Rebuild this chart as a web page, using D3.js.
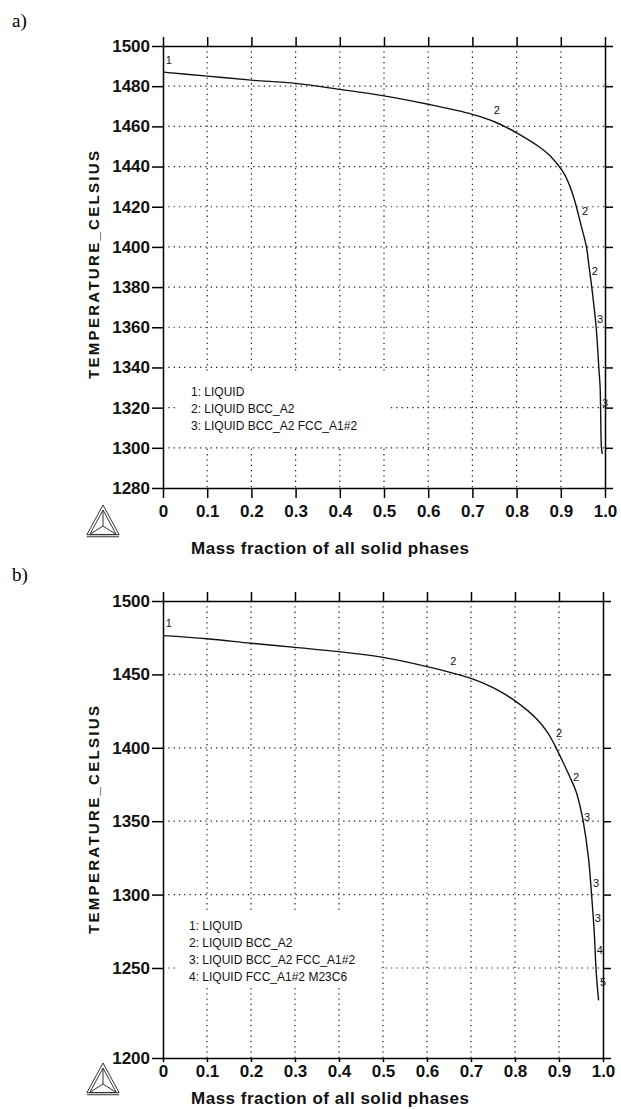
<!DOCTYPE html>
<html>
<head>
<meta charset="utf-8">
<script src="https://cdn.jsdelivr.net/npm/d3@7"></script>
<style>
  body { margin: 0; background: #fff; }
  svg { display: block; }
</style>
</head>
<body>
<script>
// ---- data ----
var xTicks = [0, 0.1, 0.2, 0.3, 0.4, 0.5, 0.6, 0.7, 0.8, 0.9, 1.0]
var xTickLabels = ["0", "0.1", "0.2", "0.3", "0.4", "0.5", "0.6", "0.7", "0.8", "0.9", "1.0"]

var yTicksA = [1280, 1300, 1320, 1340, 1360, 1380, 1400, 1420, 1440, 1460, 1480, 1500]
var yTicksB = [1200, 1250, 1300, 1350, 1400, 1450, 1500]

// panel a: mass fraction solid vs temperature
var fracA = [0, 0.1, 0.2, 0.3, 0.4, 0.5, 0.6, 0.7, 0.75, 0.8, 0.85, 0.875, 0.9, 0.91, 0.92, 0.928, 0.934, 0.945, 0.958, 0.964, 0.970, 0.980, 0.986, 0.989, 0.990, 0.992, 0.994]
var tempA = [1487, 1485, 1483, 1481.4, 1478.4, 1475.2, 1471, 1466, 1462.3, 1456.8, 1450, 1445.5, 1439, 1435.5, 1430.5, 1425.5, 1421, 1411.5, 1400, 1390, 1380, 1360, 1340, 1330, 1320, 1300, 1297]

// panel b
var fracB = [0, 0.1, 0.2, 0.3, 0.4, 0.5, 0.6, 0.7, 0.75, 0.8, 0.85, 0.875, 0.89, 0.907, 0.925, 0.939, 0.948, 0.955, 0.967, 0.974, 0.980, 0.984, 0.987, 0.99]
var tempB = [1476.4, 1474.3, 1471.2, 1468.4, 1465.5, 1461.6, 1455.3, 1447.3, 1441, 1432, 1419.5, 1410, 1402, 1391.5, 1380, 1370, 1360, 1350, 1325, 1300, 1275, 1250, 1240, 1232]

// curve labels [fraction, temperature, text]
var curveLabelsA = [[0.006, 1493, "1"], [0.755, 1468, "2"], [0.955, 1418, "2"], [0.977, 1388, "2"], [0.989, 1364, "3"], [1.0, 1322, "3"]]
var curveLabelsB = [[0.006, 1485, "1"], [0.66, 1459, "2"], [0.90, 1410, "2"], [0.939, 1380, "2"], [0.964, 1353, "3"], [0.984, 1308, "3"], [0.988, 1284, "3"], [0.993, 1262, "4"], [1.0, 1242, "5"]]

var legendA = ["1: LIQUID", "2: LIQUID BCC_A2", "3: LIQUID BCC_A2 FCC_A1#2"]
var legendB = ["1: LIQUID", "2: LIQUID BCC_A2", "3: LIQUID BCC_A2 FCC_A1#2", "4: LIQUID FCC_A1#2  M23C6"]

var xTitle = "Mass fraction of all solid phases"
var yTitle = "TEMPERATURE_CELSIUS"

var w = 621
var h = 1109
var sans = "'Liberation Sans', Arial, sans-serif"

var svg = d3.select("body").append("svg")
	.attr("width", w)
	.attr("height", h)

drawPanel({
	tag: "a)", tagY: 27,
	left: 163, right: 605, top: 46, bottom: 488,
	yDomain: [1280, 1500], yRange: [488, 46],
	yTicks: yTicksA, frac: fracA, temp: tempA,
	labels: curveLabelsA, legend: legendA,
	legendBox: [176, 374, 214, 72], legendX: 191, legendY: 396,
	xTickSize: 10, xTickPad: 7,
	yTitleY: 265, xTitleY: 554, logoY: 522
})

drawPanel({
	tag: "b)", tagY: 581,
	left: 163, right: 603, top: 601, bottom: 1058,
	yDomain: [1200, 1250, 1500], yRange: [1058, 968, 601],
	yTicks: yTicksB, frac: fracB, temp: tempB,
	labels: curveLabelsB, legend: legendB,
	legendBox: [177, 910, 204, 78], legendX: 189, legendY: 930,
	xTickSize: 4, xTickPad: 3,
	yTitleY: 820, xTitleY: 1104, logoY: 1080
})

function drawPanel(p){
	var g = svg.append("g")

	var xScale = d3.scaleLinear().domain([0, 1]).range([p.left, p.right])
	var yScale = d3.scaleLinear().domain(p.yDomain).range(p.yRange)

	// dotted grid
	g.append("g").selectAll("line")
		.data(xTicks.slice(1, -1))
		.join("line")
		.attr("x1", (d) => xScale(d)).attr("x2", (d) => xScale(d))
		.attr("y1", p.top).attr("y2", p.bottom)
		.attr("stroke", "#222").attr("stroke-width", 1.2)
		.attr("stroke-dasharray", "1.3,4")

	g.append("g").selectAll("line")
		.data(p.yTicks.slice(1, -1))
		.join("line")
		.attr("x1", p.left).attr("x2", p.right)
		.attr("y1", (d) => yScale(d)).attr("y2", (d) => yScale(d))
		.attr("stroke", "#222").attr("stroke-width", 1.2)
		.attr("stroke-dasharray", "1.3,4")

	// legend background hides the grid
	g.append("rect")
		.attr("x", p.legendBox[0]).attr("y", p.legendBox[1])
		.attr("width", p.legendBox[2]).attr("height", p.legendBox[3])
		.attr("fill", "white")

	// axes
	var xAxis = d3.axisBottom(xScale).tickValues(xTicks)
		.tickFormat((d, i) => xTickLabels[i]).tickSize(p.xTickSize).tickSizeOuter(0).tickPadding(p.xTickPad)
	var xAxisTop = d3.axisTop(xScale).tickValues(xTicks)
		.tickFormat("").tickSize(9).tickSizeOuter(0)
	var yAxis = d3.axisLeft(yScale).tickValues(p.yTicks)
		.tickFormat(d3.format("d")).tickSize(11).tickSizeOuter(0).tickPadding(2)
	var yAxisRight = d3.axisRight(yScale).tickValues(p.yTicks)
		.tickFormat("").tickSize(8).tickSizeOuter(0)

	var axes = [
		g.append("g").attr("transform", "translate(0," + p.bottom + ")").call(xAxis),
		g.append("g").attr("transform", "translate(0," + p.top + ")").call(xAxisTop),
		g.append("g").attr("transform", "translate(" + p.left + ",0)").call(yAxis),
		g.append("g").attr("transform", "translate(" + p.right + ",0)").call(yAxisRight)
	]
	axes.forEach(function(a){
		a.selectAll("path, line").attr("stroke", "#000").attr("stroke-width", 1.5)
		a.selectAll("text")
			.attr("fill", "#111")
			.style("font-family", sans)
			.style("font-weight", "bold")
			.style("font-size", "17px")
	})

	// curve
	var line = d3.line()
		.x((d, i) => xScale(p.frac[i]))
		.y((d, i) => yScale(p.temp[i]))
		.curve(d3.curveCatmullRom.alpha(0.5))

	g.append("path")
		.datum(p.temp)
		.attr("d", line)
		.attr("fill", "none")
		.attr("stroke", "#111")
		.attr("stroke-width", 1.4)

	g.append("g").selectAll("text")
		.data(p.labels)
		.join("text")
		.attr("x", (d) => xScale(d[0]))
		.attr("y", (d) => yScale(d[1]))
		.attr("dy", "0.35em")
		.attr("text-anchor", (d) => d[0] < 0.05 ? "start" : "middle")
		.style("font-family", sans)
		.style("font-size", "11px")
		.attr("fill", "#111")
		.text((d) => d[2])

	// legend
	g.append("g").selectAll("text")
		.data(p.legend)
		.join("text")
		.attr("x", p.legendX)
		.attr("y", (d, i) => p.legendY + i * 17)
		.style("font-family", sans)
		.style("font-size", "12px")
		.attr("fill", "#111")
		.text((d) => d)

	// titles
	g.append("text")
		.attr("x", 330).attr("y", p.xTitleY)
		.attr("text-anchor", "middle")
		.attr("textLength", 278)
		.style("font-family", sans).style("font-weight", "bold").style("font-size", "17px")
		.attr("fill", "#111")
		.text(xTitle)

	g.append("text")
		.attr("transform", "translate(99," + p.yTitleY + ") rotate(-90)")
		.attr("text-anchor", "middle")
		.attr("textLength", 228)
		.style("font-family", sans).style("font-weight", "bold").style("font-size", "15px")
		.attr("fill", "#111")
		.text(yTitle)

	g.append("text")
		.attr("x", 12).attr("y", p.tagY)
		.style("font-family", "'Liberation Serif', 'Times New Roman', serif")
		.style("font-size", "19px")
		.text(p.tag)

	drawLogo(g, 103, p.logoY)
}

// small triangular program logo in the corner
function drawLogo(g, cx, cy){
	var r = 17
	var pts = [[cx, cy - r], [cx - r * 0.95, cy + r * 0.75], [cx + r * 0.95, cy + r * 0.75]]
	var logo = g.append("g").attr("fill", "none").attr("stroke", "#333").attr("stroke-width", 1)
	logo.append("polygon").attr("points", pts.map((d) => d.join(",")).join(" "))
	var inner = pts.map((d) => [cx + (d[0] - cx) * 0.82, cy + 2 + (d[1] - cy) * 0.82])
	logo.append("polygon").attr("points", inner.map((d) => d.join(",")).join(" "))
	var c = [cx, cy + 4]
	inner.forEach(function(d){
		logo.append("line").attr("x1", c[0]).attr("y1", c[1]).attr("x2", d[0]).attr("y2", d[1])
	})
	logo.append("line").attr("x1", pts[1][0]).attr("y1", pts[1][1] + 2).attr("x2", pts[2][0]).attr("y2", pts[2][1] + 2)
}
</script>
</body>
</html>
